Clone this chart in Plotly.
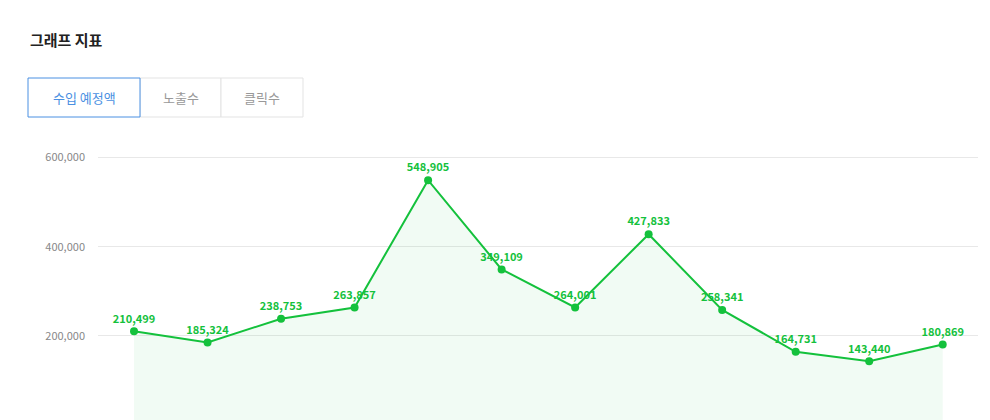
import plotly.graph_objects as go

# values
points = list(range(12))
revenue = [210499, 185324, 238753, 263857, 548905, 349109,
           264001, 427833, 258341, 164731, 143440, 180869]
tabs = ["수입 예정액", "노출수", "클릭수"]
tick_vals = [200000, 400000, 600000]
tick_text = ["200,000", "400,000", "600,000"]

green = "#14c13c"
font = "Noto Sans CJK KR"

fig = go.Figure()
fig.add_trace(go.Scatter(
    x=points, y=revenue, mode="lines+markers+text",
    line=dict(color=green, width=2),
    marker=dict(color=green, size=8),
    fill="tozeroy", fillcolor="rgba(20,193,60,0.06)",
    text=[f"{v:,}" for v in revenue], textposition="top center",
    textfont=dict(color=green, size=11, family=font, weight="bold"),
    hoverinfo="skip",
))

W, H = 990, 420
L, R, T, B = 90, 20, 148, 0
pw, ph = W - L - R, H - T - B


def px(x):
    return (x - L) / pw


def py(y):
    return (H - B - y) / ph


# heading
fig.add_annotation(text="그래프 지표", x=px(20), y=py(32), xref="paper", yref="paper",
                   xanchor="left", yanchor="middle", showarrow=False,
                   font=dict(size=15, color="#222", family=font, weight="bold"))

# tab buttons
tab_x = [20, 132, 213]
tab_w = [112, 81, 82]
for i, (label, x0, w) in enumerate(zip(tabs, tab_x, tab_w)):
    active = i == 0
    fig.add_shape(type="rect", xref="paper", yref="paper",
                  x0=px(x0), x1=px(x0 + w), y0=py(109), y1=py(70),
                  line=dict(color="#4a90e2" if active else "#e3e3e3", width=1),
                  fillcolor="white", layer="above" if active else "below")
    fig.add_annotation(text=label, x=px(x0 + w / 2), y=py(89.5), xref="paper", yref="paper",
                       xanchor="center", yanchor="middle", showarrow=False,
                       font=dict(size=13, family=font,
                                 color="#4a90e2" if active else "#999"))

fig.update_xaxes(range=[-0.49, 11.48], visible=False)
fig.update_yaxes(range=[-6000, 603000], tickvals=tick_vals, ticktext=tick_text,
                 showgrid=True, gridcolor="#e8e8e8", zeroline=False, automargin=False,
                 tickfont=dict(size=11, color="#888", family=font), ticklabelstandoff=12)
fig.update_layout(width=W, height=H, margin=dict(l=L, r=R, t=T, b=B, autoexpand=False),
                  plot_bgcolor="white", paper_bgcolor="white", showlegend=False)

fig.write_html("out.html")
